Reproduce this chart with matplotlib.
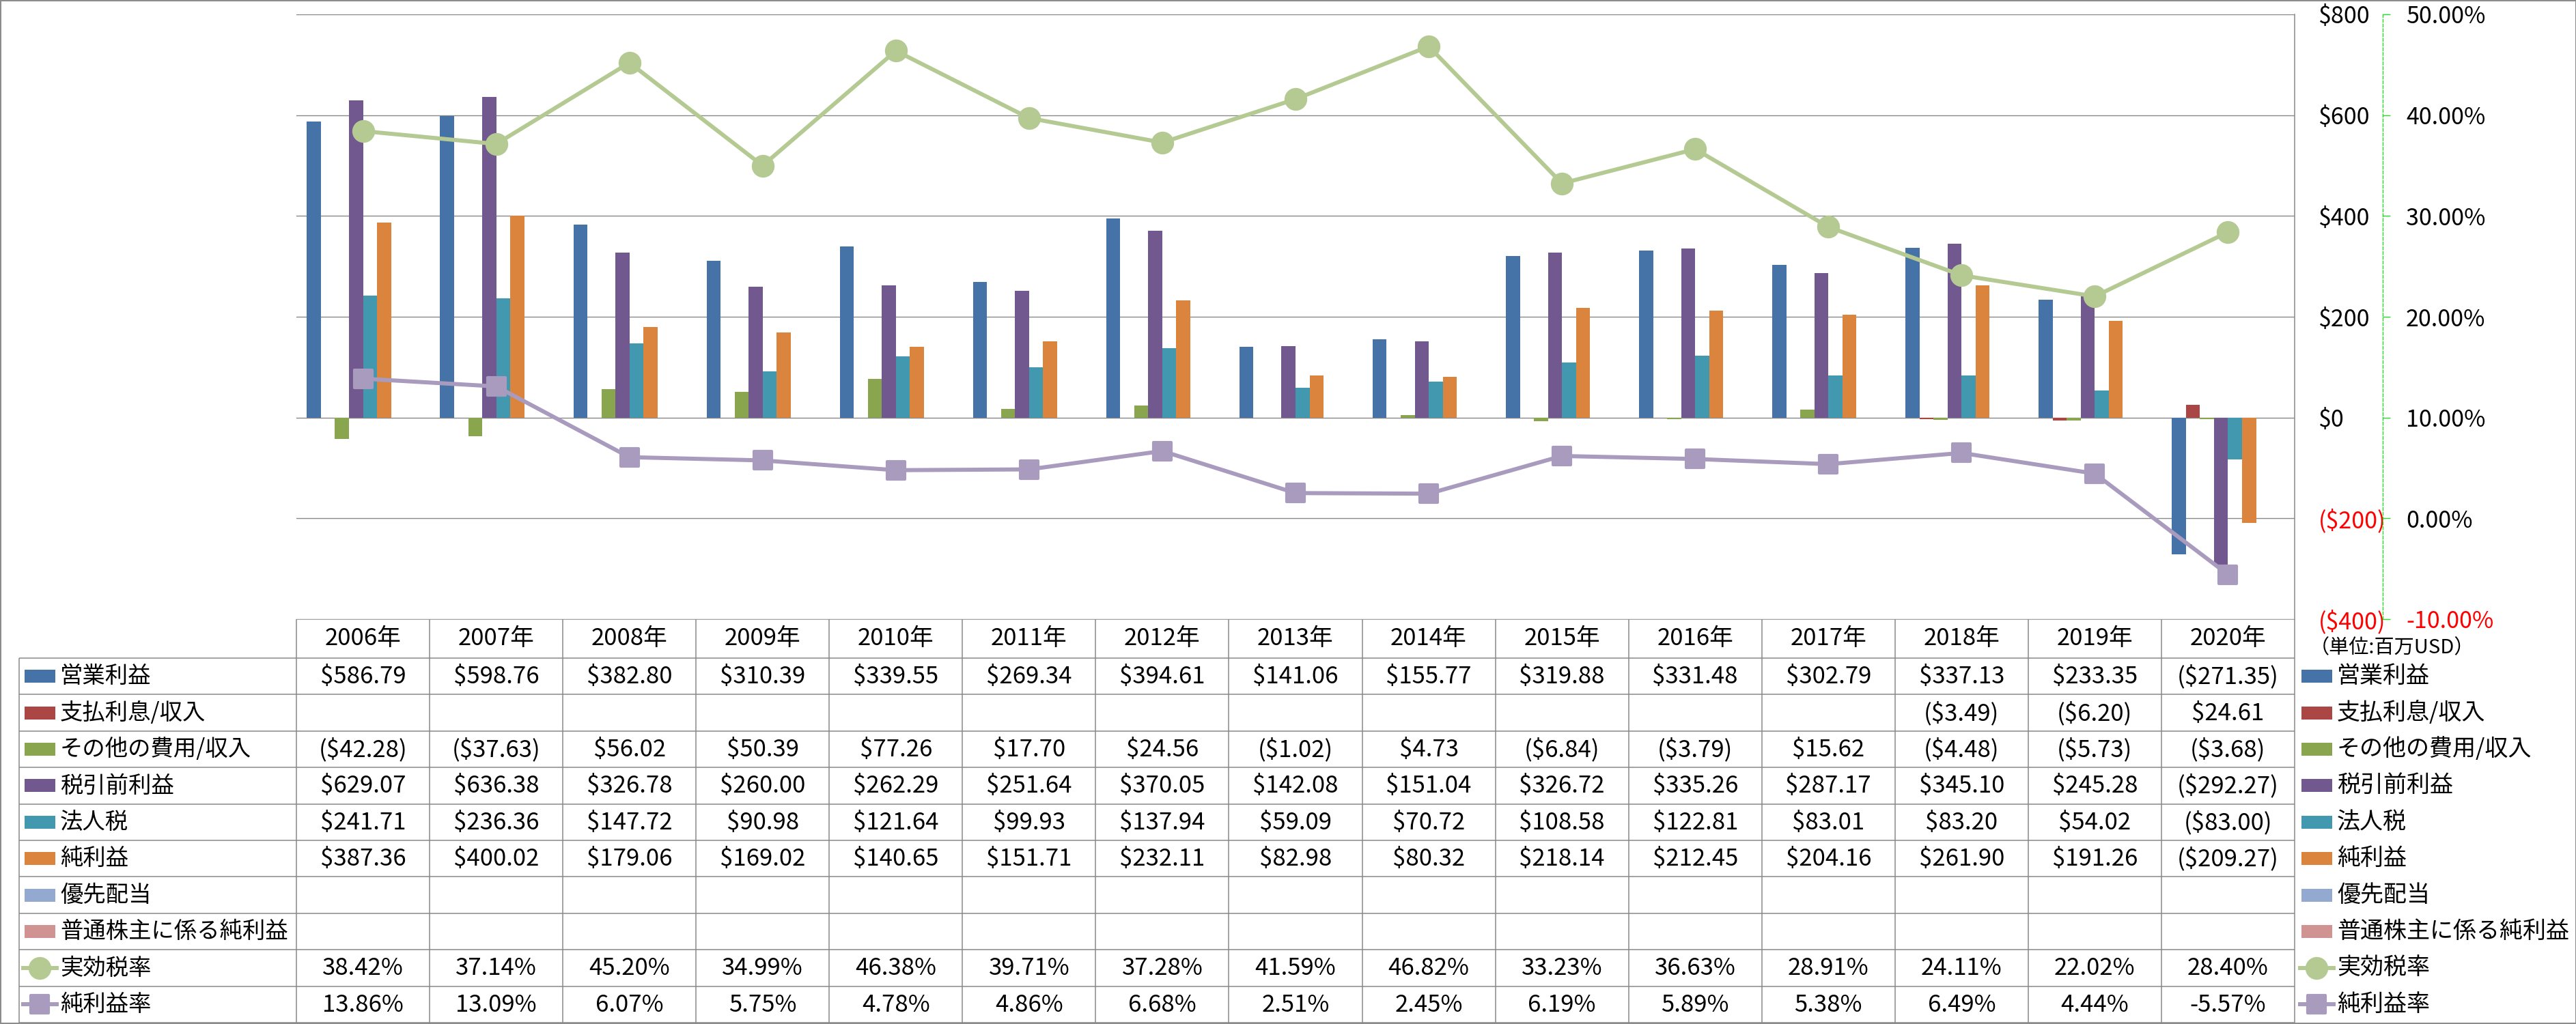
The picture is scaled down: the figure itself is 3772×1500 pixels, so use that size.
import numpy as np
import matplotlib
matplotlib.use('Agg')
import matplotlib.pyplot as plt
from matplotlib.markers import MarkerStyle
from matplotlib.patches import Rectangle
from matplotlib.lines import Line2D

plt.rcParams['font.family'] = ['Noto Sans CJK JP', 'DejaVu Sans']

nan = np.nan
years = [2006, 2007, 2008, 2009, 2010, 2011, 2012, 2013, 2014, 2015, 2016, 2017, 2018, 2019, 2020]
year_labels = [f"{y}年" for y in years]

operating_income = [586.79, 598.76, 382.80, 310.39, 339.55, 269.34, 394.61, 141.06, 155.77, 319.88, 331.48, 302.79, 337.13, 233.35, -271.35]
interest = [nan, nan, nan, nan, nan, nan, nan, nan, nan, nan, nan, nan, -3.49, -6.20, 24.61]
other_income = [-42.28, -37.63, 56.02, 50.39, 77.26, 17.70, 24.56, -1.02, 4.73, -6.84, -3.79, 15.62, -4.48, -5.73, -3.68]
pretax_income = [629.07, 636.38, 326.78, 260.00, 262.29, 251.64, 370.05, 142.08, 151.04, 326.72, 335.26, 287.17, 345.10, 245.28, -292.27]
income_tax = [241.71, 236.36, 147.72, 90.98, 121.64, 99.93, 137.94, 59.09, 70.72, 108.58, 122.81, 83.01, 83.20, 54.02, -83.00]
net_income = [387.36, 400.02, 179.06, 169.02, 140.65, 151.71, 232.11, 82.98, 80.32, 218.14, 212.45, 204.16, 261.90, 191.26, -209.27]
preferred_div = [nan] * 15
common_net_income = [nan] * 15
effective_tax_rate = [38.42, 37.14, 45.20, 34.99, 46.38, 39.71, 37.28, 41.59, 46.82, 33.23, 36.63, 28.91, 24.11, 22.02, 28.40]
net_margin = [13.86, 13.09, 6.07, 5.75, 4.78, 4.86, 6.68, 2.51, 2.45, 6.19, 5.89, 5.38, 6.49, 4.44, -5.57]

bar_names = ['営業利益', '支払利息/収入', 'その他の費用/収入', '税引前利益', '法人税', '純利益', '優先配当', '普通株主に係る純利益']
bar_values = [operating_income, interest, other_income, pretax_income, income_tax, net_income, preferred_div, common_net_income]
bar_colors = ['#4572A7', '#AA4643', '#89A54E', '#71588F', '#4198AF', '#DB843D', '#93A9CF', '#D19392']
line_names = ['実効税率', '純利益率']
line_values = [effective_tax_rate, net_margin]
line_colors = ['#B5CA92', '#A99BBD']
line_markers = ['o', 's']

money_ticks = [-400, -200, 0, 200, 400, 600, 800]
pct_ticks = [-10, 0, 10, 20, 30, 40, 50]
unit_label = '（単位:百万USD）'


def fmt_money(v):
    if v is None or np.isnan(v):
        return ''
    return f"(${abs(v):,.2f})" if v < 0 else f"${v:,.2f}"


def fmt_money_axis(v):
    return f"(${abs(v):,.0f})" if v < 0 else f"${v:,.0f}"


def fmt_pct(v):
    if v is None or np.isnan(v):
        return ''
    return f"{v:.2f}%"


W, H = 3773, 1500
fig = plt.figure(figsize=(W / 100, H / 100), dpi=100)

PT = 0.72  # points per pixel at 100 dpi
plot_l, plot_r, plot_t, plot_b = 434, 3360, 21, 907
grid_c = '#898989'

# table / legend drawing layer (pixel coordinates)
tab = fig.add_axes([0, 0, 1, 1], zorder=-1)
tab.set_xlim(0, W)
tab.set_ylim(H, 0)
tab.axis('off')

ax = fig.add_axes([plot_l / W, 1 - plot_b / H, (plot_r - plot_l) / W, (plot_b - plot_t) / H])
ncat = len(years)
x = np.arange(ncat)
nb = len(bar_values)
w = 1.0 / (nb + 1.5)
for k, (vals, col) in enumerate(zip(bar_values, bar_colors)):
    v = np.array(vals, dtype=float)
    m = np.isfinite(v)
    if m.any():
        ax.bar(x[m] + 0.75 * w + k * w, v[m], width=w, align='edge', color=col, linewidth=0, zorder=2)

ax.set_xlim(0, ncat)
ax.set_ylim(-400, 800)
ax.set_xticks([])
ax.grid(axis='y', color=grid_c, lw=1.0)
ax.set_axisbelow(True)

ax2 = ax.twinx()
for vals, col, mk in zip(line_values, line_colors, line_markers):
    ms = MarkerStyle(mk, joinstyle='round')
    ax2.plot(x + 0.5, vals, color=col, lw=4.3, marker=ms, ms=19 if mk == 's' else 21,
             mfc=col, mec=col, mew=3, zorder=3, solid_joinstyle='round')
ax2.set_ylim(-10, 50)
ax2.set_yticks(pct_ticks)
ax2.set_yticklabels([fmt_pct(t) for t in pct_ticks])
for s in ['left', 'top', 'bottom']:
    ax2.spines[s].set_visible(False)
ax2.spines['right'].set_position(('outward', 129 * PT))
ax2.spines['right'].set_color('#22DD22')
ax2.spines['right'].set_linestyle((0, (3, 2)))
ax2.spines['right'].set_linewidth(1.0)
ax2.tick_params(axis='y', direction='out', length=8, width=1, color='#22DD22', pad=16.5, labelsize=24.5)
for lbl, t in zip(ax2.get_yticklabels(), pct_ticks):
    lbl.set_color('red' if t < 0 else 'black')

# money axis labels on the right (after twinx, which moves ticks to the left)
ax.yaxis.tick_right()
ax.set_yticks(money_ticks)
ax.set_yticklabels([fmt_money_axis(t) for t in money_ticks])
ax.tick_params(axis='y', which='both', left=False, right=True, labelleft=False, labelright=True,
               length=0, pad=35 * PT, labelsize=24.5)
for lbl, t in zip(ax.get_yticklabels(), money_ticks):
    lbl.set_color('red' if t < 0 else 'black')
for s in ['left', 'top', 'bottom']:
    ax.spines[s].set_visible(False)
ax.spines['right'].set_visible(True)
ax.spines['right'].set_color(grid_c)
ax.spines['right'].set_linewidth(1.1)

# unit label
tab.text(3382, 949, unit_label, fontsize=21, ha='left', va='center', color='black')

# ---- data table ----
col_w = (plot_r - plot_l) / ncat
col_x = [plot_l + col_w * j for j in range(ncat + 1)]
head_t, head_b = plot_b, 964
tbl_bottom = 1498
row_names = bar_names + line_names
nrows = len(row_names)
row_h = (tbl_bottom - head_b) / nrows
row_y = [head_b + row_h * r for r in range(nrows + 1)]
lab_l = 28
tl = dict(color=grid_c, lw=1.1, solid_capstyle='butt')

tab.plot([plot_l, plot_r], [head_t, head_t], **tl)
for yy in row_y:
    tab.plot([lab_l, plot_r], [yy, yy], **tl)
for xx in col_x:
    tab.plot([xx, xx], [head_t, tbl_bottom], **tl)
tab.plot([lab_l, lab_l], [head_b, tbl_bottom], **tl)

for j, yl in enumerate(year_labels):
    tab.text(col_x[j] + col_w / 2, (head_t + head_b) / 2, yl, fontsize=25, ha='center', va='center')

row_data = [[fmt_money(v) for v in vals] for vals in bar_values] + \
           [[fmt_pct(v) for v in vals] for vals in line_values]
for r in range(nrows):
    yc = (row_y[r] + row_y[r + 1]) / 2
    for j in range(ncat):
        s = row_data[r][j]
        if s:
            tab.text(col_x[j] + col_w / 2, yc + 1, s, fontsize=25, ha='center', va='center')


def legend_key(xl, xr, yc, r):
    if r < nb:
        tab.add_patch(Rectangle((xl, yc - 9.5), xr - xl, 19, facecolor=bar_colors[r], edgecolor='none'))
    else:
        li = r - nb
        col = line_colors[li]
        ms = MarkerStyle(line_markers[li], joinstyle='round')
        tab.add_line(Line2D([xl - 2, xr + 2], [yc, yc], color=col, lw=4.3))
        tab.add_line(Line2D([(xl + xr) / 2], [yc], marker=ms, ms=19 if line_markers[li] == 's' else 21,
                            mfc=col, mec=col, mew=3, lw=0))


for r, name in enumerate(row_names):
    yc = (row_y[r] + row_y[r + 1]) / 2
    legend_key(36, 81, yc, r)
    tab.text(88, yc, name, fontsize=24, ha='left', va='center')
    legend_key(3370, 3415, yc, r)
    tab.text(3422, yc, name, fontsize=24.5, ha='left', va='center')

# outer frame
fig.add_artist(Rectangle((0, 0), 1, 1, transform=fig.transFigure, fill=False,
                         edgecolor='#8c8c8c', lw=2.9))

fig.savefig('out.png', dpi=100)
